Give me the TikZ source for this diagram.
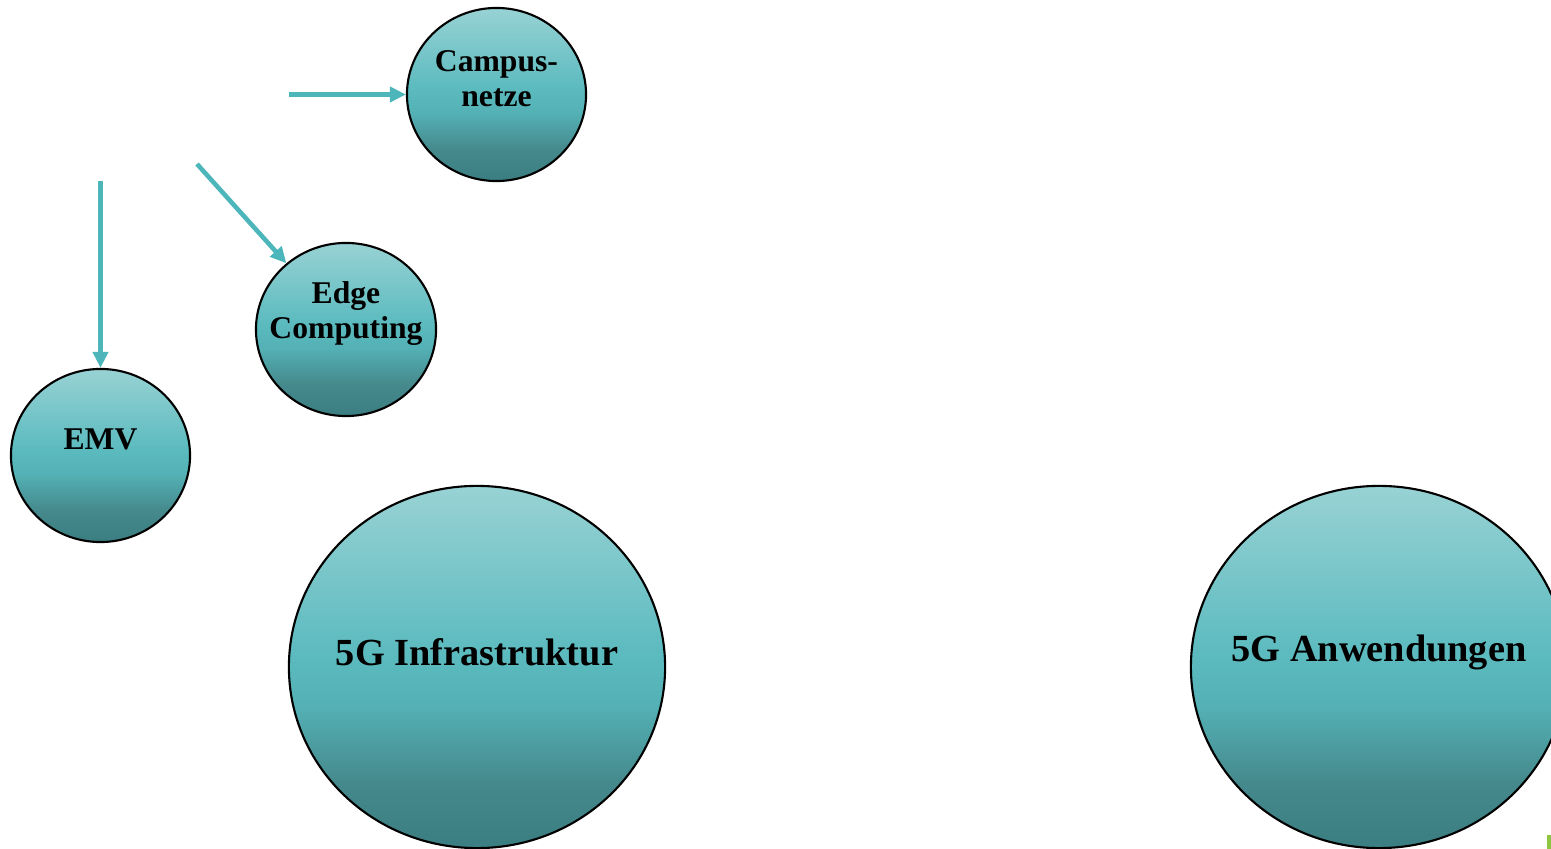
\documentclass[tikz,border=0pt]{standalone}
\usepackage{fontspec}
\setmainfont{Liberation Serif}
\usepackage{tikz}
\usetikzlibrary{arrows.meta,shapes.geometric}

\definecolor{arrowteal}{HTML}{4DB6BB}
\definecolor{markgreen}{HTML}{8DC63F}

% teal from dark (bottom) to light (top)
\pgfdeclareverticalshading{tealfade}{100bp}{
  color(0bp)=(rgb,255:red,59;green,126;blue,129);
  color(25bp)=(rgb,255:red,59;green,126;blue,129);
  color(34bp)=(rgb,255:red,69;green,137;blue,140);
  color(45bp)=(rgb,255:red,84;green,178;blue,182);
  color(52bp)=(rgb,255:red,92;green,187;blue,191);
  color(75bp)=(rgb,255:red,152;green,210;blue,212);
  color(100bp)=(rgb,255:red,152;green,210;blue,212)}

\tikzset{
  topic/.style={ellipse,draw=black,line width=0.6pt,inner sep=0pt,shading=tealfade},
  smalltext/.style={yshift=0.16cm,align=center,font=\bfseries\fontsize{9}{10}\selectfont},
  bigtext/.style={yshift=0.15cm,font=\bfseries\fontsize{10.9}{12}\selectfont}
}

\begin{document}
\begin{tikzpicture}[x=0.01cm,y=-0.01cm]
    \useasboundingbox (0,0) rectangle (1551,849);
    \node[topic,minimum width=1.79cm,minimum height=1.73cm,
      label={[smalltext]center:Campus-\\netze}] (campus) at (496.5,94.5) {};
    \node[topic,minimum width=1.80cm,minimum height=1.73cm,
      label={[smalltext]center:Edge\\Computing}] (edge) at (346,329.5) {};
    \node[topic,minimum width=1.79cm,minimum height=1.73cm,
      label={[smalltext]center:EMV}] (emv) at (100.5,455.5) {};
    \node[topic,minimum width=3.76cm,minimum height=3.62cm,
      label={[bigtext]center:5G Infrastruktur}] (infra) at (477,667) {};
    \node[topic,minimum width=3.76cm,minimum height=3.62cm,
      label={[bigtext]center:5G Anwendungen}] (anw) at (1379,667) {};
    \coordinate (fromcampus) at (289,94.5);
    \coordinate (fromedge) at (197,164);
    \coordinate (fromemv) at (100.5,181);
    \begin{scope}[every path/.style={draw=arrowteal,line width=1.3pt,
        -{Triangle[length=0.16cm,width=0.15cm]}}]
      \path (fromcampus) -- (campus);
      \path (fromedge) -- (edge);
      \path (fromemv) -- (emv);
    \end{scope}
    \fill[markgreen] (1547,835) rectangle (1551,849);
  \end{tikzpicture}
\end{document}
